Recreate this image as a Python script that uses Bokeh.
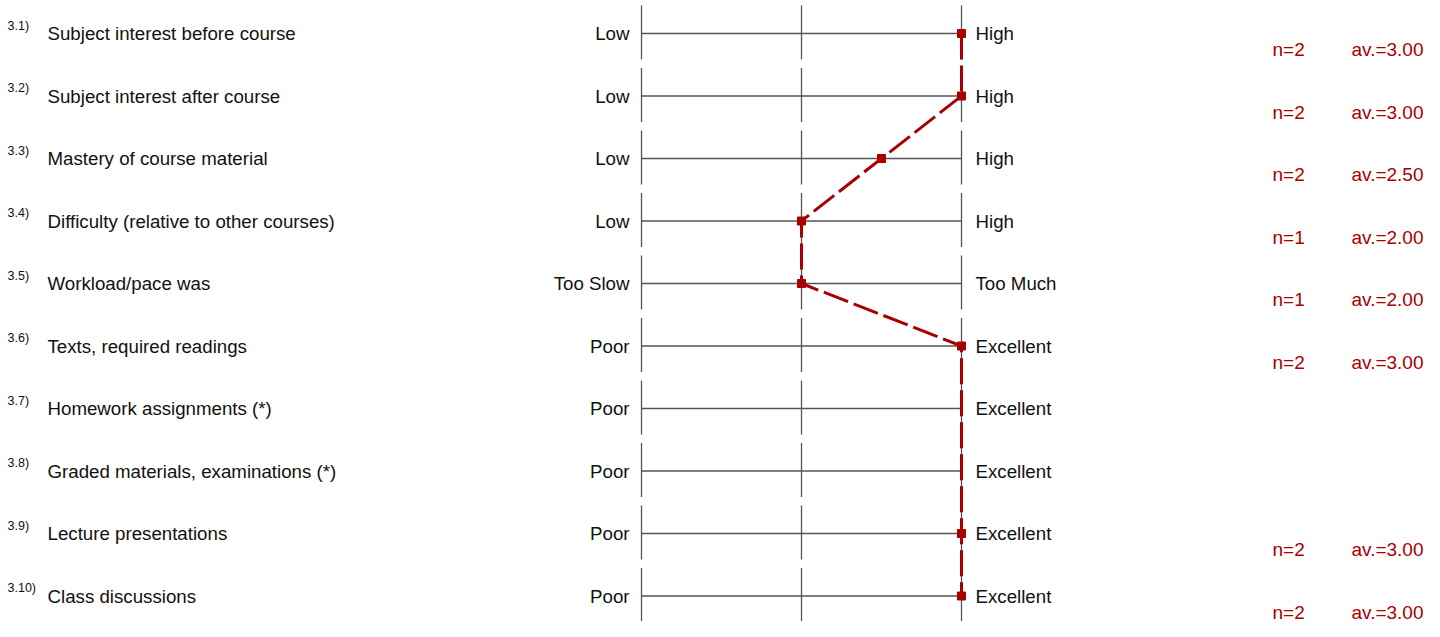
from bokeh.plotting import figure
from bokeh.models import Range1d
from bokeh.embed import file_html
from bokeh.resources import INLINE
from bokeh.core.properties import value

# ---- data ----
item_ids = ["3.1)", "3.2)", "3.3)", "3.4)", "3.5)", "3.6)", "3.7)", "3.8)", "3.9)", "3.10)"]
item_labels = [
    "Subject interest before course",
    "Subject interest after course",
    "Mastery of course material",
    "Difficulty (relative to other courses)",
    "Workload/pace was",
    "Texts, required readings",
    "Homework assignments (*)",
    "Graded materials, examinations (*)",
    "Lecture presentations",
    "Class discussions",
]
low_labels = ["Low", "Low", "Low", "Low", "Too Slow", "Poor", "Poor", "Poor", "Poor", "Poor"]
high_labels = ["High", "High", "High", "High", "Too Much", "Excellent", "Excellent", "Excellent", "Excellent", "Excellent"]
averages = [3.00, 3.00, 2.50, 2.00, 2.00, 3.00, None, None, 3.00, 3.00]
counts = [2, 2, 2, 1, 1, 2, None, None, 2, 2]
scale_points = [1, 2, 3]

# ---- layout ----
W, H = 1424, 621
PX_PER_UNIT = 160.0
X1_PX = 641.0
ROW_PX = 62.5
ROW0_PX = 33.0

GREY = "#555555"
RED = "#a80000"
FONT = "Liberation Sans"

x_start = 1 - X1_PX / PX_PER_UNIT
x_end = 1 + (W - X1_PX) / PX_PER_UNIT
y_top = -ROW0_PX / ROW_PX
y_bot = (H - ROW0_PX) / ROW_PX


def px_to_x(px):
    return x_start + px / PX_PER_UNIT


p = figure(width=W, height=H, output_backend="svg", toolbar_location=None,
           x_range=Range1d(x_start, x_end), y_range=Range1d(y_bot, y_top),
           min_border=0, outline_line_color=None)
p.axis.visible = False
p.grid.visible = False
p.background_fill_color = "white"
p.border_fill_color = "white"

rows = list(range(len(item_ids)))

# horizontal scale lines
p.segment(x0=[scale_points[0]] * len(rows), x1=[scale_points[-1]] * len(rows),
          y0=rows, y1=rows, line_color=GREY, line_width=1.3)

# vertical tick lines
vx, vy0, vy1 = [], [], []
for r in rows:
    for s in scale_points:
        vx.append(s)
        vy0.append(r - 28 / ROW_PX)
        vy1.append(r + 26 / ROW_PX)
p.segment(x0=vx, x1=vx, y0=vy0, y1=vy1, line_color=GREY, line_width=1.3)

# profile line through answered items
vr = [r for r in rows if averages[r] is not None]
va = [averages[r] for r in vr]
p.line(x=va, y=vr, line_color=RED, line_width=3, line_dash="26 6")
p.scatter(x=va, y=vr, marker="square", size=8, fill_color=RED, line_color=RED)

# texts
p.text(x=[px_to_x(7)] * len(rows), y=rows, text=item_ids, text_font=value(FONT),
       text_font_size="12.5px", text_color="#111111", text_baseline="alphabetic",
       text_align="left", y_offset=-8)
p.text(x=[px_to_x(47)] * len(rows), y=rows, text=item_labels, text_font=value(FONT),
       text_font_size="18.7px", text_color="#111111", text_baseline="alphabetic",
       text_align="left")
p.text(x=[px_to_x(629)] * len(rows), y=rows, text=low_labels, text_font=value(FONT),
       text_font_size="18.7px", text_color="#111111", text_baseline="alphabetic",
       text_align="right")
p.text(x=[px_to_x(975)] * len(rows), y=rows, text=high_labels, text_font=value(FONT),
       text_font_size="18.7px", text_color="#111111", text_baseline="alphabetic",
       text_align="left")

n_text = ["n=%d" % counts[r] for r in vr]
av_text = ["av.=%.2f" % averages[r] for r in vr]
p.text(x=[px_to_x(1272)] * len(vr), y=vr, text=n_text, text_font=value(FONT),
       text_font_size="19px", text_color=RED, text_baseline="alphabetic",
       text_align="left", y_offset=16)
p.text(x=[px_to_x(1423)] * len(vr), y=vr, text=av_text, text_font=value(FONT),
       text_font_size="19px", text_color=RED, text_baseline="alphabetic",
       text_align="right", y_offset=16)

open("out.html", "w").write(file_html(p, INLINE))
